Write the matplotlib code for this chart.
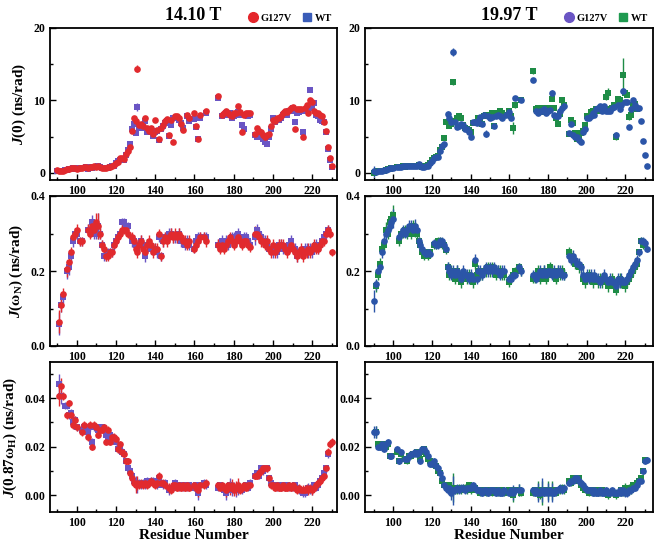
import numpy as np
import matplotlib
matplotlib.use("Agg")
import matplotlib.pyplot as plt
from matplotlib.lines import Line2D
from matplotlib.ticker import MultipleLocator, FormatStrFormatter

nan = np.nan

# residue numbers (gaps at 167-171 and 189-190)
residues = list(range(90, 167)) + list(range(172, 189)) + list(range(191, 232))

# ---------------- J(0), 14.10 T ----------------
j0_g127v_14 = [
    0.4, 0.3, 0.2, 0.3, 0.4, 0.5, 0.5, 0.6, 0.6, 0.6,
    0.5, 0.7, 0.7, 0.7, 0.8, 0.8, 0.7, 0.8, 0.8, 0.9,
    0.8, 0.9, 0.8, 0.7, 0.7, 0.7, 0.8, 0.8, 0.9, 1.1,
    1.3, 1.5, 2.0, 2.0, 1.9, 2.6, 3.0, 3.6, 5.8, 7.6,
    7.2, 14.4, 6.6, 6.7, 6.4, 7.5, 6.2, 5.8, 6.2, 5.4,
    7.3, 5.9, 4.7, 6.2, 6.6, 7.2, 7.4, 5.2, 7.3, 4.2,
    7.8, 7.9, 7.5, 6.8, 5.9, nan, 8.0, 7.6, nan, nan,
    8.3, 6.4, 4.7, 8.0, nan, nan, 8.5,
    10.6, nan, 8.0, 8.2, 8.5, 8.3, 8.0, 7.8, 8.2, 8.3,
    9.2, 8.4, 5.6, 8.0, 8.2, 8.3, 8.2,
    5.3, 6.2, 5.8, 5.6, 5.2, 5.0, 5.2, 5.3, 6.5, 7.3,
    7.2, 7.6, 7.5, 7.8, 8.3, 8.5, 8.4, 8.7, 9.0, 9.1,
    6.1, 8.8, 8.8, 8.8, 5.0, 9.0, 9.4, 8.3, 10.0, 9.8,
    8.5, 8.2, 8.3, 8.0, 7.8, 7.0, 5.8, 3.5, 2.0, 0.9,
    nan]
j0_wt_14 = [
    0.3, 0.3, 0.3, 0.3, 0.4, 0.4, 0.5, 0.5, 0.6, 0.5,
    0.6, 0.6, 0.7, 0.7, 0.7, 0.8, 0.5, 0.8, 0.7, 0.8,
    0.8, 0.9, 0.8, 0.7, 0.7, 0.6, 0.7, 0.8, 0.9, 1.0,
    1.3, 1.6, 1.8, 1.9, 1.8, 2.4, 3.2, 4.0, 6.0, 6.8,
    5.5, 9.1, 6.3, 6.2, 6.6, 7.2, 5.7, 5.7, 6.0, 5.1,
    5.6, 5.8, 4.5, 6.1, 6.4, 6.9, 7.1, 5.1, 6.6, 7.5,
    7.6, 7.5, 7.3, 6.9, 6.2, nan, 7.8, 7.2, nan, nan,
    7.4, 6.3, 4.6, 7.6, nan, nan, 8.3,
    10.3, nan, 7.9, 8.0, 8.3, 8.0, 8.2, 7.6, 7.8, 8.0,
    8.4, 8.0, 6.6, 6.0, 8.0, 7.9, 8.0,
    5.2, 5.0, 5.5, 5.3, 4.6, 4.3, 4.0, 5.0, 6.0, 7.5,
    7.0, 7.3, 7.3, 7.6, 8.0, 8.2, 8.0, 8.5, 8.6, 9.0,
    7.0, 8.3, 8.4, 8.5, 5.6, 8.6, 8.7, 8.5, 11.4, 8.9,
    9.6, 8.0, 7.8, 7.3, 7.1, 7.0, 5.6, 3.3, 1.8, 0.8,
    nan]
j0_err_14 = [
    0.2, 0.2, 0.2, 0.2, 0.2, 0.2, 0.2, 0.2, 0.2, 0.2,
    0.2, 0.2, 0.2, 0.2, 0.2, 0.2, 0.2, 0.2, 0.2, 0.2,
    0.2, 0.2, 0.2, 0.2, 0.2, 0.2, 0.2, 0.2, 0.2, 0.2,
    0.2, 0.2, 0.2, 0.2, 0.2, 0.2, 0.2, 0.2, 0.2, 0.2,
    0.2, 0.5, 0.2, 0.2, 0.2, 0.2, 0.2, 0.2, 0.2, 0.2,
    0.2, 0.2, 0.2, 0.2, 0.2, 0.2, 0.2, 0.2, 0.2, 0.2,
    0.2, 0.2, 0.2, 0.2, 0.2, 0.2, 0.2, 0.2, 0.2, 0.2,
    0.2, 0.2, 0.2, 0.2, 0.2, 0.2, 0.2,
    0.2, 0.2, 0.2, 0.2, 0.2, 0.2, 0.2, 0.2, 0.2, 0.2,
    0.2, 0.2, 0.3, 0.2, 0.2, 0.2, 0.2,
    0.2, 0.2, 0.2, 0.2, 0.2, 0.2, 0.2, 0.2, 0.2, 0.2,
    0.2, 0.2, 0.2, 0.2, 0.2, 0.2, 0.2, 0.2, 0.2, 0.2,
    0.2, 0.2, 0.2, 0.2, 0.4, 0.2, 0.2, 0.2, 0.2, 0.2,
    0.2, 0.2, 0.2, 0.2, 0.2, 0.2, 0.2, 0.2, 0.2, 0.2,
    0.2]

# ---------------- J(0), 19.97 T ----------------
j0_g127v_19 = [
    0.2, 0.1, 0.2, 0.2, 0.3, 0.4, 0.4, 0.5, 0.6, 0.7,
    0.7, nan, 0.8, 0.8, 0.8, 0.9, 0.9, 0.9, 0.9, 0.9,
    1.0, 1.0, 1.0, 1.2, 1.0, 0.8, 0.8, 0.9, 1.0, 1.3,
    1.6, 2.0, 2.2, 2.2, 3.0, 3.7, 4.0, nan, 8.1, 7.5,
    7.0, 16.7, 7.0, 6.3, 6.5, 6.8, 6.6, 6.0, 6.1, 5.7,
    4.9, 7.0, 7.0, 6.9, 7.2, 7.7, 6.7, 8.0, 5.4, 7.8,
    7.6, 7.7, 6.5, 7.9, 8.0, 7.9, 7.6, nan, 8.0, nan,
    8.4, 7.6, nan, 10.3, nan, nan, 10.1,
    12.8, nan, 8.5, 8.3, 8.6, 8.5, 8.8, 8.2, 8.5, 8.7,
    11.0, 8.0, 7.8, 7.8, 8.5, 9.0, 9.2,
    5.5, 6.8, 5.2, 5.0, 4.9, 4.5, 4.3, 5.6, 6.0, 7.6,
    7.5, 7.9, 8.2, 8.0, 8.8, 8.9, 9.2, 8.5, 9.2, 8.6,
    8.5, 8.6, 9.0, 9.1, 5.2, 9.3, 8.8, 9.4, 11.3, 9.8,
    9.8, 6.3, 8.8, 10.0, 9.3, 9.0, 8.9, 7.2, 4.4, 2.5,
    0.9]
j0_wt_19 = [
    0.0, 0.1, 0.2, 0.2, 0.3, 0.3, 0.4, 0.5, 0.5, 0.6,
    0.7, nan, 0.8, 0.8, 0.8, 0.9, 0.8, 0.9, 0.9, 1.0,
    1.0, 1.0, 1.0, 1.1, 0.9, 0.8, 0.8, 0.9, 1.1, 1.4,
    1.7, 2.1, 2.2, 2.3, 3.1, 3.5, 4.8, 7.0, 7.0, 6.4,
    6.8, 12.5, 7.2, 7.6, 7.8, 7.5, 6.6, 6.2, 6.0, 5.9,
    5.6, 6.9, 6.9, 7.0, 7.6, 7.0, 6.7, 7.9, 8.0, 8.0,
    8.0, 8.2, 6.5, 7.8, 8.3, 8.5, 8.2, nan, 8.0, nan,
    8.5, 7.8, 6.2, 9.4, nan, nan, 10.1,
    14.1, nan, 8.8, 8.9, 8.7, 8.4, 8.9, 8.9, 8.5, 9.0,
    10.2, 9.0, 7.6, 6.7, 8.1, 10.0, 9.4,
    5.3, 7.3, 6.9, 5.5, 4.6, 4.8, 5.5, 5.8, 6.6, 7.9,
    7.8, 8.4, 8.6, 8.4, 8.8, 8.5, 8.6, 9.0, 8.8, 10.4,
    11.0, 8.8, 9.0, 9.3, 4.9, 10.2, 10.0, 9.7, 13.5, 11.0,
    10.8, 7.7, 8.0, 9.3, 9.5, 8.8, nan, nan, nan, nan,
    nan]
j0_g127v_err_19 = [
    0.8, 0.3, 0.2, 0.2, 0.2, 0.2, 0.2, 0.2, 0.2, 0.2,
    0.2, 0.2, 0.2, 0.2, 0.2, 0.2, 0.2, 0.2, 0.2, 0.2,
    0.2, 0.2, 0.2, 0.3, 0.2, 0.2, 0.2, 0.2, 0.2, 0.2,
    0.2, 0.2, 0.2, 0.2, 0.2, 0.3, 0.2, 0.2, 0.4, 0.3,
    0.2, 0.5, 0.3, 0.3, 0.2, 0.2, 0.2, 0.2, 0.2, 0.2,
    0.2, 0.2, 0.2, 0.2, 0.2, 0.2, 0.2, 0.2, 0.5, 0.2,
    0.2, 0.2, 0.2, 0.2, 0.2, 0.2, 0.2, 0.2, 0.2, 0.2,
    0.2, 0.2, 0.2, 0.3, 0.2, 0.2, 0.2,
    0.3, 0.2, 0.2, 0.2, 0.2, 0.2, 0.2, 0.2, 0.2, 0.2,
    0.5, 0.2, 0.2, 0.2, 0.2, 0.3, 0.2,
    0.2, 0.2, 0.2, 0.2, 0.2, 0.2, 0.2, 0.2, 0.2, 0.2,
    0.2, 0.2, 0.2, 0.2, 0.2, 0.2, 0.2, 0.2, 0.2, 0.2,
    0.2, 0.2, 0.2, 0.2, 0.5, 0.2, 0.4, 0.2, 0.4, 0.2,
    0.2, 0.2, 0.2, 0.2, 0.2, 0.2, 0.2, 0.2, 0.2, 0.2,
    0.2]
j0_wt_err_19 = [
    0.2, 0.2, 0.2, 0.2, 0.2, 0.2, 0.2, 0.2, 0.2, 0.2,
    0.2, 0.2, 0.2, 0.2, 0.2, 0.2, 0.2, 0.2, 0.2, 0.2,
    0.2, 0.2, 0.2, 0.2, 0.2, 0.2, 0.2, 0.2, 0.2, 0.2,
    0.2, 0.2, 0.2, 0.2, 0.2, 0.2, 0.2, 0.2, 0.2, 0.2,
    0.2, 0.4, 0.2, 0.2, 0.2, 0.2, 0.2, 0.2, 0.2, 0.2,
    0.2, 0.2, 0.2, 0.2, 0.2, 0.2, 0.2, 0.2, 0.2, 0.2,
    0.2, 0.2, 0.2, 0.2, 0.2, 0.2, 0.2, 0.2, 0.2, 0.2,
    0.2, 0.3, 0.8, 0.4, 0.2, 0.2, 0.2,
    0.4, 0.2, 0.2, 0.2, 0.2, 0.2, 0.2, 0.2, 0.2, 0.2,
    0.3, 0.2, 0.2, 0.2, 0.2, 0.3, 0.2,
    0.2, 0.2, 0.2, 0.2, 0.2, 0.2, 0.2, 0.2, 0.2, 0.2,
    0.2, 0.2, 0.2, 0.2, 0.2, 0.2, 0.2, 0.2, 0.2, 0.4,
    0.7, 0.2, 0.2, 0.2, 0.4, 0.2, 0.2, 0.2, 2.3, 0.3,
    0.2, 0.4, 0.2, 0.2, 0.2, 0.2, 0.2, 0.2, 0.2, 0.2,
    0.2]

# ---------------- J(wN), 14.10 T ----------------
jn_g127v_14 = [
    nan, 0.065, 0.11, 0.14, nan, 0.205, 0.225, 0.25, 0.29, 0.30,
    0.31, nan, 0.28, 0.28, nan, nan, 0.31, 0.30, 0.32, 0.31,
    0.33, 0.32, 0.30, 0.27, 0.26, 0.24, 0.24, 0.25, 0.25, 0.27,
    0.28, 0.29, 0.30, 0.31, 0.31, 0.31, 0.30, nan, 0.29, 0.28,
    0.26, 0.25, 0.27, 0.28, 0.26, 0.25, 0.27, 0.28, 0.27, 0.25,
    0.26, 0.26, 0.30, 0.24, 0.28, 0.29, 0.28, 0.29, 0.30, 0.29,
    0.30, 0.29, 0.30, 0.29, 0.28, 0.28, 0.27, 0.28, nan, nan,
    0.26, 0.27, 0.28, 0.29, nan, 0.29, 0.28,
    0.27, 0.26, 0.27, 0.26, 0.27, 0.28, 0.29, 0.28, 0.27, 0.28,
    0.29, 0.28, 0.27, 0.28, 0.28, 0.27, 0.265,
    0.30, 0.30, 0.29, 0.28, 0.28, 0.27, 0.28, 0.26, 0.25, 0.27,
    0.25, 0.26, 0.27, 0.27, 0.27, 0.26, 0.25, 0.26, 0.27, 0.26,
    0.25, 0.24, 0.25, 0.26, 0.24, 0.25, 0.25, 0.26, 0.25, 0.26,
    0.27, 0.26, 0.26, 0.27, 0.28, 0.28, 0.30, 0.31, 0.30, 0.25,
    nan]
jn_wt_14 = [
    nan, 0.06, 0.11, 0.13, nan, 0.20, 0.21, 0.24, 0.28, 0.30,
    0.30, nan, 0.28, 0.28, nan, nan, 0.31, 0.31, 0.33, 0.30,
    0.31, 0.32, 0.30, 0.27, 0.24, 0.24, 0.25, 0.25, 0.25, 0.27,
    0.28, 0.29, 0.30, 0.33, 0.33, 0.32, 0.32, nan, 0.28, 0.28,
    0.27, 0.26, 0.27, 0.28, 0.27, 0.24, 0.27, 0.27, 0.26, 0.26,
    0.26, 0.25, 0.29, 0.24, 0.28, 0.29, 0.29, 0.30, 0.30, 0.29,
    0.29, 0.29, 0.30, 0.28, 0.28, 0.27, 0.28, 0.27, nan, nan,
    0.26, 0.28, 0.29, 0.29, nan, 0.29, 0.29,
    0.27, 0.27, 0.28, 0.27, 0.28, 0.27, 0.28, 0.29, 0.29, 0.28,
    0.30, 0.28, 0.28, 0.29, 0.29, 0.28, 0.27,
    0.29, 0.31, 0.30, 0.29, 0.28, 0.28, 0.27, 0.26, 0.26, 0.25,
    0.26, 0.25, 0.27, 0.27, 0.26, 0.26, 0.26, 0.27, 0.28, 0.26,
    0.26, 0.24, 0.25, 0.25, 0.25, 0.26, 0.26, 0.25, 0.26, 0.25,
    0.26, 0.27, 0.26, 0.27, 0.28, 0.29, 0.30, 0.31, nan, nan,
    nan]
jn_err_14 = [
    0.015, 0.03, 0.02, 0.015, 0.015, 0.02, 0.02, 0.015, 0.015, 0.015,
    0.015, 0.015, 0.012, 0.012, 0.015, 0.015, 0.015, 0.015, 0.02, 0.015,
    0.025, 0.035, 0.015, 0.012, 0.012, 0.012, 0.012, 0.012, 0.012, 0.012,
    0.012, 0.012, 0.012, 0.012, 0.012, 0.012, 0.012, 0.012, 0.015, 0.015,
    0.015, 0.015, 0.015, 0.015, 0.015, 0.015, 0.015, 0.015, 0.015, 0.015,
    0.015, 0.015, 0.012, 0.012, 0.015, 0.015, 0.015, 0.015, 0.015, 0.015,
    0.015, 0.015, 0.015, 0.015, 0.015, 0.015, 0.015, 0.015, 0.015, 0.015,
    0.012, 0.015, 0.015, 0.015, 0.015, 0.015, 0.015,
    0.015, 0.015, 0.015, 0.015, 0.015, 0.015, 0.015, 0.015, 0.015, 0.015,
    0.015, 0.015, 0.015, 0.015, 0.015, 0.015, 0.015,
    0.02, 0.015, 0.015, 0.015, 0.015, 0.015, 0.015, 0.015, 0.015, 0.015,
    0.015, 0.015, 0.015, 0.015, 0.015, 0.015, 0.015, 0.015, 0.015, 0.015,
    0.015, 0.015, 0.015, 0.015, 0.015, 0.015, 0.015, 0.015, 0.015, 0.015,
    0.015, 0.015, 0.015, 0.015, 0.015, 0.012, 0.012, 0.012, 0.012, 0.01,
    0.01]

# ---------------- J(wN), 19.97 T ----------------
jn_g127v_19 = [
    0.12, 0.165, 0.20, 0.21, 0.25, 0.28, 0.30, 0.31, 0.32, 0.33,
    0.34, nan, nan, 0.29, 0.30, 0.31, 0.30, 0.31, 0.32, 0.32,
    0.31, 0.32, 0.31, 0.28, 0.27, 0.26, 0.25, 0.245, 0.25, 0.245,
    nan, 0.275, 0.27, 0.27, 0.28, 0.28, 0.27, 0.26, 0.21, 0.20,
    0.19, 0.20, 0.19, 0.20, 0.19, 0.18, 0.20, 0.19, 0.19, 0.18,
    0.19, 0.18, 0.23, 0.18, 0.20, 0.20, 0.19, 0.20, 0.21, 0.20,
    0.21, 0.20, 0.21, 0.20, 0.20, 0.19, 0.20, 0.20, nan, nan,
    0.18, 0.18, 0.19, 0.19, nan, 0.21, 0.20,
    0.19, 0.19, 0.18, 0.19, 0.20, 0.19, 0.20, 0.19, 0.20, 0.20,
    0.19, 0.20, 0.19, 0.20, 0.20, 0.19, 0.19,
    0.24, 0.23, 0.24, 0.23, 0.22, 0.22, 0.21, 0.19, 0.18, 0.19,
    0.18, 0.19, 0.18, 0.19, 0.18, 0.18, 0.17, 0.18, 0.19, 0.18,
    0.17, 0.18, 0.17, 0.17, 0.16, 0.18, 0.17, 0.18, 0.17, 0.17,
    0.18, 0.19, 0.20, 0.21, 0.22, 0.23, 0.25, 0.28, 0.28, 0.275,
    0.26]
jn_wt_19 = [
    nan, 0.16, 0.19, 0.22, 0.26, 0.27, 0.31, 0.30, 0.33, 0.34,
    0.35, nan, nan, 0.28, 0.30, 0.30, 0.31, 0.30, 0.31, 0.30,
    0.32, 0.31, 0.30, 0.28, 0.27, 0.25, 0.24, 0.25, 0.24, 0.25,
    nan, 0.27, 0.27, 0.28, 0.28, 0.27, 0.27, 0.255, 0.21, 0.19,
    0.20, 0.19, 0.18, 0.20, 0.18, 0.17, 0.19, 0.19, 0.18, 0.19,
    0.18, 0.17, 0.22, 0.19, 0.20, 0.19, 0.19, 0.20, 0.20, 0.21,
    0.20, 0.21, 0.20, 0.19, 0.20, 0.20, 0.19, 0.19, nan, nan,
    0.17, 0.18, 0.19, 0.20, nan, 0.21, 0.20,
    0.18, 0.18, 0.19, 0.20, 0.18, 0.19, 0.20, 0.18, 0.19, 0.21,
    0.20, 0.19, 0.18, 0.20, 0.19, 0.20, 0.19,
    0.25, 0.24, 0.23, 0.22, 0.22, 0.21, 0.21, 0.18, 0.17, 0.18,
    0.19, 0.18, 0.17, 0.18, 0.18, 0.17, 0.18, 0.17, 0.18, 0.17,
    0.16, 0.17, 0.18, 0.16, 0.15, 0.17, 0.18, 0.17, 0.17, 0.16,
    0.17, 0.18, 0.19, 0.20, 0.21, 0.22, 0.25, 0.28, 0.27, 0.27,
    nan]
jn_err_19 = [
    0.03, 0.015, 0.015, 0.015, 0.015, 0.015, 0.02, 0.015, 0.015, 0.02,
    0.025, 0.015, 0.015, 0.012, 0.012, 0.012, 0.012, 0.015, 0.015, 0.015,
    0.015, 0.02, 0.015, 0.012, 0.012, 0.012, 0.01, 0.01, 0.01, 0.01,
    0.01, 0.01, 0.01, 0.01, 0.01, 0.01, 0.01, 0.01, 0.015, 0.015,
    0.015, 0.015, 0.015, 0.015, 0.015, 0.015, 0.015, 0.015, 0.015, 0.015,
    0.015, 0.015, 0.015, 0.015, 0.015, 0.015, 0.015, 0.015, 0.015, 0.015,
    0.015, 0.015, 0.015, 0.015, 0.015, 0.015, 0.015, 0.015, 0.015, 0.015,
    0.012, 0.012, 0.012, 0.012, 0.012, 0.012, 0.012,
    0.012, 0.012, 0.012, 0.015, 0.015, 0.015, 0.015, 0.015, 0.015, 0.015,
    0.015, 0.015, 0.015, 0.015, 0.015, 0.015, 0.015,
    0.015, 0.015, 0.015, 0.015, 0.015, 0.015, 0.015, 0.015, 0.015, 0.015,
    0.015, 0.015, 0.015, 0.015, 0.015, 0.015, 0.015, 0.015, 0.015, 0.015,
    0.015, 0.015, 0.015, 0.015, 0.015, 0.015, 0.015, 0.015, 0.015, 0.015,
    0.015, 0.012, 0.012, 0.012, 0.012, 0.012, 0.01, 0.01, 0.01, 0.01,
    0.01]

# ---------------- J(0.87wH), 14.10 T ----------------
jh_g127v_14 = [
    nan, 0.041, 0.045, 0.041, nan, 0.033, 0.038, 0.033, 0.029, 0.031,
    0.028, nan, nan, 0.026, 0.029, nan, 0.024, 0.029, 0.020, 0.029,
    0.028, 0.025, 0.027, 0.027, 0.028, 0.022, 0.027, 0.022, 0.024, 0.024,
    0.023, 0.019, 0.021, 0.018, 0.017, 0.014, 0.014, 0.009, 0.007, 0.005,
    0.004, 0.005, 0.004, 0.005, 0.004, 0.005, 0.004, 0.005, 0.006, 0.005,
    0.004, 0.005, 0.008, 0.005, 0.005, 0.004, nan, 0.003, 0.002, 0.004,
    0.004, 0.003, 0.004, 0.003, 0.004, 0.003, 0.004, 0.003, nan, nan,
    0.004, 0.003, 0.002, 0.004, nan, 0.004, 0.005,
    0.004, 0.003, 0.004, 0.003, 0.002, 0.004, 0.003, 0.004, 0.002, 0.003,
    0.004, 0.002, 0.003, 0.004, 0.003, 0.004, 0.004,
    0.008, 0.008, 0.009, 0.010, 0.011, 0.011, 0.011, 0.007, 0.004, 0.004,
    0.003, 0.004, 0.003, 0.003, 0.004, 0.003, 0.003, 0.004, 0.003, 0.004,
    0.003, 0.002, 0.003, 0.002, 0.002, 0.002, 0.003, 0.002, 0.003, 0.002,
    0.003, 0.004, 0.005, 0.006, 0.007, 0.008, 0.011, 0.018, 0.021, 0.022,
    nan]
jh_wt_14 = [
    nan, 0.046, 0.041, nan, 0.037, 0.037, 0.033, 0.034, 0.030, 0.031,
    0.028, nan, nan, 0.027, 0.028, nan, 0.026, 0.028, 0.022, 0.028,
    0.028, 0.027, 0.028, 0.028, 0.027, 0.025, 0.024, 0.025, 0.024, 0.023,
    0.022, 0.019, 0.020, 0.018, 0.017, 0.014, 0.011, 0.010, 0.008, 0.006,
    0.005, 0.004, 0.005, 0.004, 0.005, 0.004, 0.006, 0.005, 0.006, 0.006,
    0.005, 0.004, 0.007, 0.005, 0.004, 0.005, nan, 0.002, 0.003, 0.003,
    0.005, 0.004, 0.003, 0.004, 0.003, 0.004, 0.003, 0.004, nan, nan,
    0.003, 0.004, 0.001, 0.004, nan, 0.005, 0.004,
    0.003, 0.004, 0.003, 0.002, 0.001, 0.003, 0.004, 0.002, 0.003, 0.002,
    0.003, 0.003, 0.002, 0.003, 0.004, 0.003, 0.005,
    0.008, 0.009, 0.008, 0.011, 0.010, 0.011, 0.011, 0.007, 0.005, 0.004,
    0.004, 0.003, 0.004, 0.003, 0.004, 0.003, 0.004, 0.003, 0.003, 0.003,
    0.004, 0.003, 0.002, 0.002, 0.001, 0.001, 0.002, 0.003, 0.002, 0.002,
    0.004, 0.003, 0.004, 0.006, 0.007, 0.009, 0.011, 0.017, nan, nan,
    nan]
jh_err_14 = [
    0.0015, 0.004, 0.0035, 0.0015, 0.0015, 0.0015, 0.0015, 0.0015, 0.0015, 0.0015,
    0.0015, 0.0015, 0.0015, 0.0015, 0.0015, 0.0015, 0.0015, 0.0015, 0.0015, 0.0015,
    0.0015, 0.0015, 0.0015, 0.0015, 0.0015, 0.0015, 0.0015, 0.0015, 0.0015, 0.0015,
    0.0015, 0.0015, 0.0015, 0.0015, 0.0015, 0.0015, 0.0015, 0.0015, 0.0015, 0.0015,
    0.003, 0.003, 0.0015, 0.0015, 0.0015, 0.0015, 0.0015, 0.0015, 0.0015, 0.0015,
    0.0015, 0.0015, 0.0015, 0.0015, 0.0015, 0.0015, 0.0015, 0.002, 0.0015, 0.0015,
    0.0015, 0.0015, 0.0015, 0.0015, 0.0015, 0.0015, 0.0015, 0.0015, 0.0015, 0.0015,
    0.0015, 0.0015, 0.003, 0.0015, 0.0015, 0.0015, 0.0015,
    0.0015, 0.0015, 0.0015, 0.0015, 0.003, 0.0015, 0.003, 0.0025, 0.0025, 0.003,
    0.003, 0.0015, 0.0015, 0.0015, 0.0015, 0.0015, 0.0015,
    0.0015, 0.0015, 0.0015, 0.0015, 0.0015, 0.0015, 0.0015, 0.0015, 0.0015, 0.0015,
    0.0015, 0.0015, 0.0015, 0.0015, 0.0015, 0.0015, 0.0015, 0.0015, 0.0015, 0.0015,
    0.0015, 0.0015, 0.0015, 0.0015, 0.002, 0.002, 0.0015, 0.002, 0.0015, 0.002,
    0.0015, 0.0015, 0.0015, 0.0015, 0.0015, 0.0015, 0.0015, 0.0015, 0.0015, 0.0015,
    0.0015]

# ---------------- J(0.87wH), 19.97 T ----------------
jh_g127v_19 = [
    0.026, 0.026, 0.020, 0.020, 0.021, 0.019, 0.021, 0.022, 0.016, 0.016,
    nan, nan, 0.019, 0.014, 0.018, nan, 0.015, 0.015, 0.016, 0.017,
    0.017, 0.018, 0.017, 0.018, 0.014, 0.019, 0.019, 0.018, 0.016, 0.013,
    0.013, 0.014, 0.012, 0.011, 0.009, 0.007, 0.004, 0.003, 0.002, 0.003,
    0.001, 0.002, 0.002, 0.003, 0.002, 0.003, 0.003, 0.002, 0.003, 0.003,
    0.003, 0.004, 0.003, 0.002, 0.002, 0.002, 0.001, 0.002, 0.002, 0.001,
    0.002, 0.002, 0.002, 0.001, 0.002, 0.001, 0.001, 0.002, nan, nan,
    0.001, 0.002, 0.001, 0.002, nan, 0.002, 0.002,
    0.002, 0.001, 0.002, 0.001, 0.001, 0.002, 0.001, 0.002, 0.001, 0.002,
    0.001, 0.001, 0.002, 0.002, 0.003, 0.002, 0.003,
    0.005, 0.006, 0.006, 0.007, 0.007, 0.006, 0.005, 0.004, 0.003, 0.002,
    0.002, 0.002, 0.001, 0.002, 0.001, 0.001, 0.002, 0.001, 0.001, 0.002,
    0.001, 0.001, 0.002, 0.001, 0.001, 0.001, 0.002, 0.001, 0.002, 0.001,
    0.001, 0.002, 0.002, 0.003, 0.003, 0.004, 0.006, 0.006, 0.010, 0.014,
    0.0145]
jh_wt_19 = [
    nan, 0.026, 0.021, 0.020, 0.021, 0.020, 0.020, 0.021, 0.016, 0.016,
    nan, nan, 0.018, 0.014, 0.017, nan, 0.015, 0.014, 0.016, 0.016,
    0.017, 0.017, 0.018, 0.017, 0.015, 0.018, 0.019, 0.017, 0.015, 0.014,
    0.013, 0.013, 0.012, 0.010, 0.009, 0.006, 0.004, 0.004, 0.003, 0.004,
    0.002, 0.003, 0.002, 0.002, 0.003, 0.002, 0.003, 0.003, 0.002, 0.004,
    0.002, 0.003, 0.003, 0.002, 0.002, 0.001, 0.002, 0.002, 0.001, 0.002,
    0.002, 0.001, 0.002, 0.002, 0.001, 0.002, 0.002, 0.001, nan, nan,
    0.002, 0.001, 0.000, 0.002, nan, 0.002, 0.001,
    0.001, 0.002, 0.001, 0.002, 0.000, 0.001, 0.002, 0.001, 0.002, 0.001,
    0.002, 0.001, 0.001, 0.002, 0.002, 0.003, 0.002,
    0.006, 0.005, 0.007, 0.006, 0.007, 0.007, 0.004, 0.003, 0.002, 0.002,
    0.001, 0.002, 0.002, 0.001, 0.002, 0.001, 0.001, 0.002, 0.001, 0.001,
    0.000, 0.001, 0.001, 0.001, 0.000, 0.001, 0.001, 0.002, 0.001, 0.003,
    0.002, 0.003, 0.002, 0.004, 0.004, 0.005, 0.006, 0.007, 0.010, 0.0145,
    nan]
jh_err_19 = [
    0.0025, 0.0025, 0.0012, 0.0012, 0.0012, 0.0012, 0.0012, 0.0012, 0.0012, 0.0012,
    0.0012, 0.0012, 0.0012, 0.0012, 0.0012, 0.0012, 0.0012, 0.0012, 0.0012, 0.0012,
    0.0012, 0.0012, 0.0012, 0.0012, 0.0012, 0.0012, 0.0012, 0.0012, 0.0012, 0.0012,
    0.0012, 0.0012, 0.0012, 0.0012, 0.0012, 0.0012, 0.0012, 0.0012, 0.0015, 0.0015,
    0.003, 0.006, 0.0015, 0.0015, 0.0015, 0.0015, 0.0015, 0.0015, 0.0015, 0.0015,
    0.0015, 0.0015, 0.0015, 0.0015, 0.0015, 0.0015, 0.0015, 0.0015, 0.0015, 0.0015,
    0.0015, 0.0015, 0.0015, 0.0015, 0.0015, 0.0015, 0.0015, 0.0015, 0.0015, 0.0015,
    0.0015, 0.0015, 0.003, 0.0015, 0.0015, 0.0025, 0.0015,
    0.0015, 0.0015, 0.0015, 0.004, 0.0015, 0.005, 0.0015, 0.0015, 0.004, 0.0015,
    0.004, 0.0015, 0.0015, 0.0015, 0.0015, 0.0015, 0.0015,
    0.0012, 0.0012, 0.0012, 0.0012, 0.0012, 0.0012, 0.0012, 0.0012, 0.0012, 0.0012,
    0.0012, 0.0012, 0.0012, 0.0012, 0.0012, 0.0012, 0.0012, 0.0012, 0.0012, 0.0012,
    0.0015, 0.0015, 0.0015, 0.0015, 0.0015, 0.0015, 0.0015, 0.0015, 0.0015, 0.002,
    0.002, 0.0015, 0.0015, 0.0012, 0.0012, 0.0012, 0.0012, 0.0012, 0.0012, 0.0012,
    0.0012]

# ---------------- style ----------------
plt.rcParams['font.family'] = ['Liberation Serif', 'DejaVu Serif']
plt.rcParams['font.weight'] = 'bold'
plt.rcParams['mathtext.fontset'] = 'custom'
plt.rcParams['mathtext.rm'] = 'Liberation Serif:bold'
plt.rcParams['mathtext.bf'] = 'Liberation Serif:bold'
plt.rcParams['mathtext.it'] = 'Liberation Serif:bold:italic'
plt.rcParams['mathtext.bfit'] = 'Liberation Serif:bold:italic'

red = '#e12a2e'
purple = '#6a55c4'
blue = '#2b55a8'
green = '#1e8c46'

fig = plt.figure(figsize=(6.6, 5.47), dpi=100)

col_left = [50 / 660, 365 / 660]
col_width = [287 / 660, 288 / 660]
row_bottom = [1 - 180 / 547, 1 - 346 / 547, 1 - 512 / 547]
row_height = [152 / 547, 150 / 547, 150 / 547]

panels = [
    # (row, col, series list, ylim, yticks, yminor, fmt)
    (0, 0, [(j0_wt_14, j0_err_14, purple, 's'), (j0_g127v_14, j0_err_14, red, 'o')],
     (-1.0, 20), [0, 10, 20], 5, '%d'),
    (0, 1, [(j0_wt_19, j0_wt_err_19, green, 's'), (j0_g127v_19, j0_g127v_err_19, blue, 'o')],
     (-1.0, 20), [0, 10, 20], 5, '%d'),
    (1, 0, [(jn_wt_14, jn_err_14, purple, 's'), (jn_g127v_14, jn_err_14, red, 'o')],
     (0.0, 0.4), [0.0, 0.2, 0.4], 0.1, '%.1f'),
    (1, 1, [(jn_wt_19, jn_err_19, green, 's'), (jn_g127v_19, jn_err_19, blue, 'o')],
     (0.0, 0.4), [0.0, 0.2, 0.4], 0.1, '%.1f'),
    (2, 0, [(jh_wt_14, jh_err_14, purple, 's'), (jh_g127v_14, jh_err_14, red, 'o')],
     (-0.007, 0.055), [0.00, 0.02, 0.04], 0.01, '%.2f'),
    (2, 1, [(jh_wt_19, jh_err_19, green, 's'), (jh_g127v_19, jh_err_19, blue, 'o')],
     (-0.007, 0.055), [0.00, 0.02, 0.04], 0.01, '%.2f'),
]

xlims = [(86.5, 232.5), (85.3, 234.3)]
axes = {}
for row, col, series, ylim, yticks, yminor, fmt in panels:
    ax = fig.add_axes([col_left[col], row_bottom[row], col_width[col], row_height[row]])
    axes[(row, col)] = ax
    for vals, errs, color, marker in series:
        ax.errorbar(residues, vals, yerr=errs, fmt=marker, color=color,
                    markersize=4.8, elinewidth=1.0, capsize=2, capthick=1.0,
                    markeredgewidth=0)
    ax.set_xlim(*xlims[col])
    ax.set_ylim(*ylim)
    ax.set_xticks(range(100, 221, 20))
    ax.xaxis.set_minor_locator(MultipleLocator(10))
    ax.set_yticks(yticks)
    ax.yaxis.set_minor_locator(MultipleLocator(yminor))
    ax.yaxis.set_major_formatter(FormatStrFormatter(fmt))
    ax.tick_params(which='both', direction='in', top=False, right=False,
                   labelsize=8.5, width=1.0)
    ax.tick_params(which='major', length=4)
    ax.tick_params(which='minor', length=2)
    for lab in ax.get_xticklabels() + ax.get_yticklabels():
        lab.set_fontweight('bold')
    for sp in ax.spines.values():
        sp.set_linewidth(1.3)

axes[(0, 0)].set_title('14.10 T', fontsize=13, fontweight='bold', pad=6)
axes[(0, 1)].set_title('19.97 T', fontsize=13, fontweight='bold', pad=6)

ylab_kw = dict(fontsize=11, fontweight='bold', labelpad=4)
axes[(0, 0)].set_ylabel(r'$\mathbfit{J}$(0) (ns/rad)', **ylab_kw)
axes[(1, 0)].set_ylabel(r'$\mathbfit{J}$(ω$_{\mathbf{N}}$) (ns/rad)', **ylab_kw)
axes[(2, 0)].set_ylabel(r'$\mathbfit{J}$(0.87ω$_{\mathbf{H}}$) (ns/rad)', **ylab_kw)
axes[(2, 0)].set_xlabel('Residue Number', fontsize=11, fontweight='bold', labelpad=0)
axes[(2, 1)].set_xlabel('Residue Number', fontsize=11, fontweight='bold', labelpad=0)

legend_colors = [('#e4262b', '#3a5cb8'), ('#6a55c4', '#1f9a50')]
for col in (0, 1):
    c1, c2 = legend_colors[col]
    handles = [Line2D([], [], ls='none', marker='o', color=c1, markersize=7),
               Line2D([], [], ls='none', marker='s', color=c2, markersize=6)]
    axes[(0, col)].legend(handles, ['G127V', 'WT'], loc='lower right',
                          bbox_to_anchor=(1.0, 1.0), ncol=2, frameon=False,
                          borderaxespad=0.1, handletextpad=0.2, columnspacing=1.0,
                          handlelength=1.0, prop={'size': 7.5, 'weight': 'bold'})

fig.savefig('out.png', dpi=100, facecolor='white')
